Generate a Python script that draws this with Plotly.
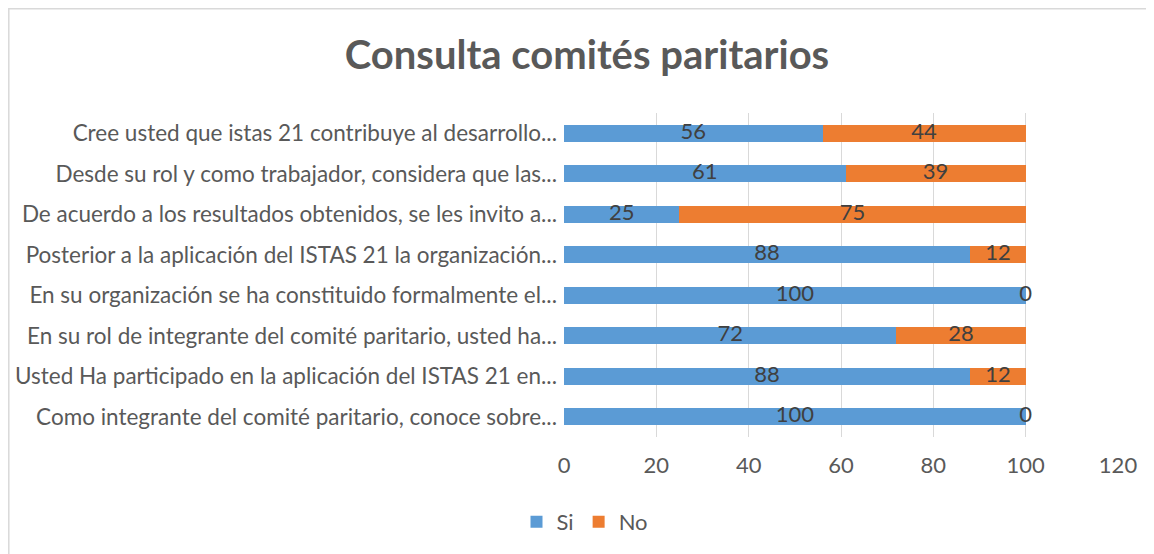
import plotly.graph_objects as go

categories = [
    "Cree usted que istas 21 contribuye al desarrollo...",
    "Desde su rol y como trabajador, considera que las...",
    "De acuerdo a los resultados obtenidos, se les invito a...",
    "Posterior a la aplicación del ISTAS 21 la organización...",
    "En su organización se ha constituido formalmente el...",
    "En su rol de integrante del comité paritario, usted ha...",
    "Usted Ha participado en la aplicación del ISTAS 21 en...",
    "Como integrante del comité paritario, conoce sobre...",
]
si_values = [56, 61, 25, 88, 100, 72, 88, 100]
no_values = [44, 39, 75, 12, 0, 28, 12, 0]
x_ticks = [0, 20, 40, 60, 80, 100, 120]

FONT = "Lato"
TXT = "#595959"
LBL = "#404040"
SI_C = "#5B9BD5"
NO_C = "#ED7D31"
FS = 22

W, H = 1146, 546  # page adds an 8px body margin

fig = go.Figure()
fig.add_trace(go.Bar(y=categories, x=si_values, name="Si", orientation="h",
                     marker=dict(color=SI_C, line=dict(width=0))))
fig.add_trace(go.Bar(y=categories, x=no_values, name="No", orientation="h",
                     marker=dict(color=NO_C, line=dict(width=0))))

si_mid = [s / 2 for s in si_values]
no_mid = [s + n / 2 for s, n in zip(si_values, no_values)]
fig.add_trace(go.Scatter(y=categories, x=si_mid, mode="text",
                         text=[str(v) for v in si_values],
                         textfont=dict(family=FONT, size=FS, color=LBL),
                         showlegend=False, hoverinfo="skip"))
fig.add_trace(go.Scatter(y=categories, x=no_mid, mode="text",
                         text=[str(v) for v in no_values],
                         textfont=dict(family=FONT, size=FS, color=LBL),
                         showlegend=False, hoverinfo="skip"))

fig.update_layout(
    width=W, height=H,
    barmode="stack", bargap=0.58,
    paper_bgcolor="white", plot_bgcolor="white",
    margin=dict(l=556, r=36, t=105, b=117),
    font=dict(family=FONT, size=FS, color=TXT),
    title=dict(text="<b>Consulta comités paritarios</b>", x=579 / W, xanchor="center",
               y=1 - 47 / H, yanchor="middle", yref="container",
               font=dict(family=FONT, size=40, color=TXT)),
    xaxis=dict(range=[0, 120], tickvals=x_ticks, showgrid=True, gridcolor="#D9D9D9",
               gridwidth=1, zeroline=False, showline=False, ticks="", automargin=False,
               tickfont=dict(family=FONT, size=FS, color=TXT), ticklabelstandoff=13),
    yaxis=dict(autorange="reversed", showgrid=False, zeroline=False, showline=False,
               ticks="", automargin=False,
               tickfont=dict(family=FONT, size=22.5, color=TXT), ticklabelstandoff=6),
    legend=dict(orientation="h", x=577 / W, xanchor="center", xref="container",
                y=1 - 514 / H, yanchor="middle", yref="container",
                font=dict(family=FONT, size=FS, color=TXT), traceorder="normal",
                itemwidth=30, itemsizing="constant"),
    shapes=[dict(type="rect", xref="paper", yref="paper",
                 x0=(0.8 - 556) / 554, x1=(1250 - 556) / 554,
                 y0=(429 - 650) / 324, y1=(429 - 0.8) / 324,
                 line=dict(color="#D9D9D9", width=1.5), fillcolor="rgba(0,0,0,0)",
                 layer="below")],
    showlegend=True,
)

fig.write_html("out.html")
